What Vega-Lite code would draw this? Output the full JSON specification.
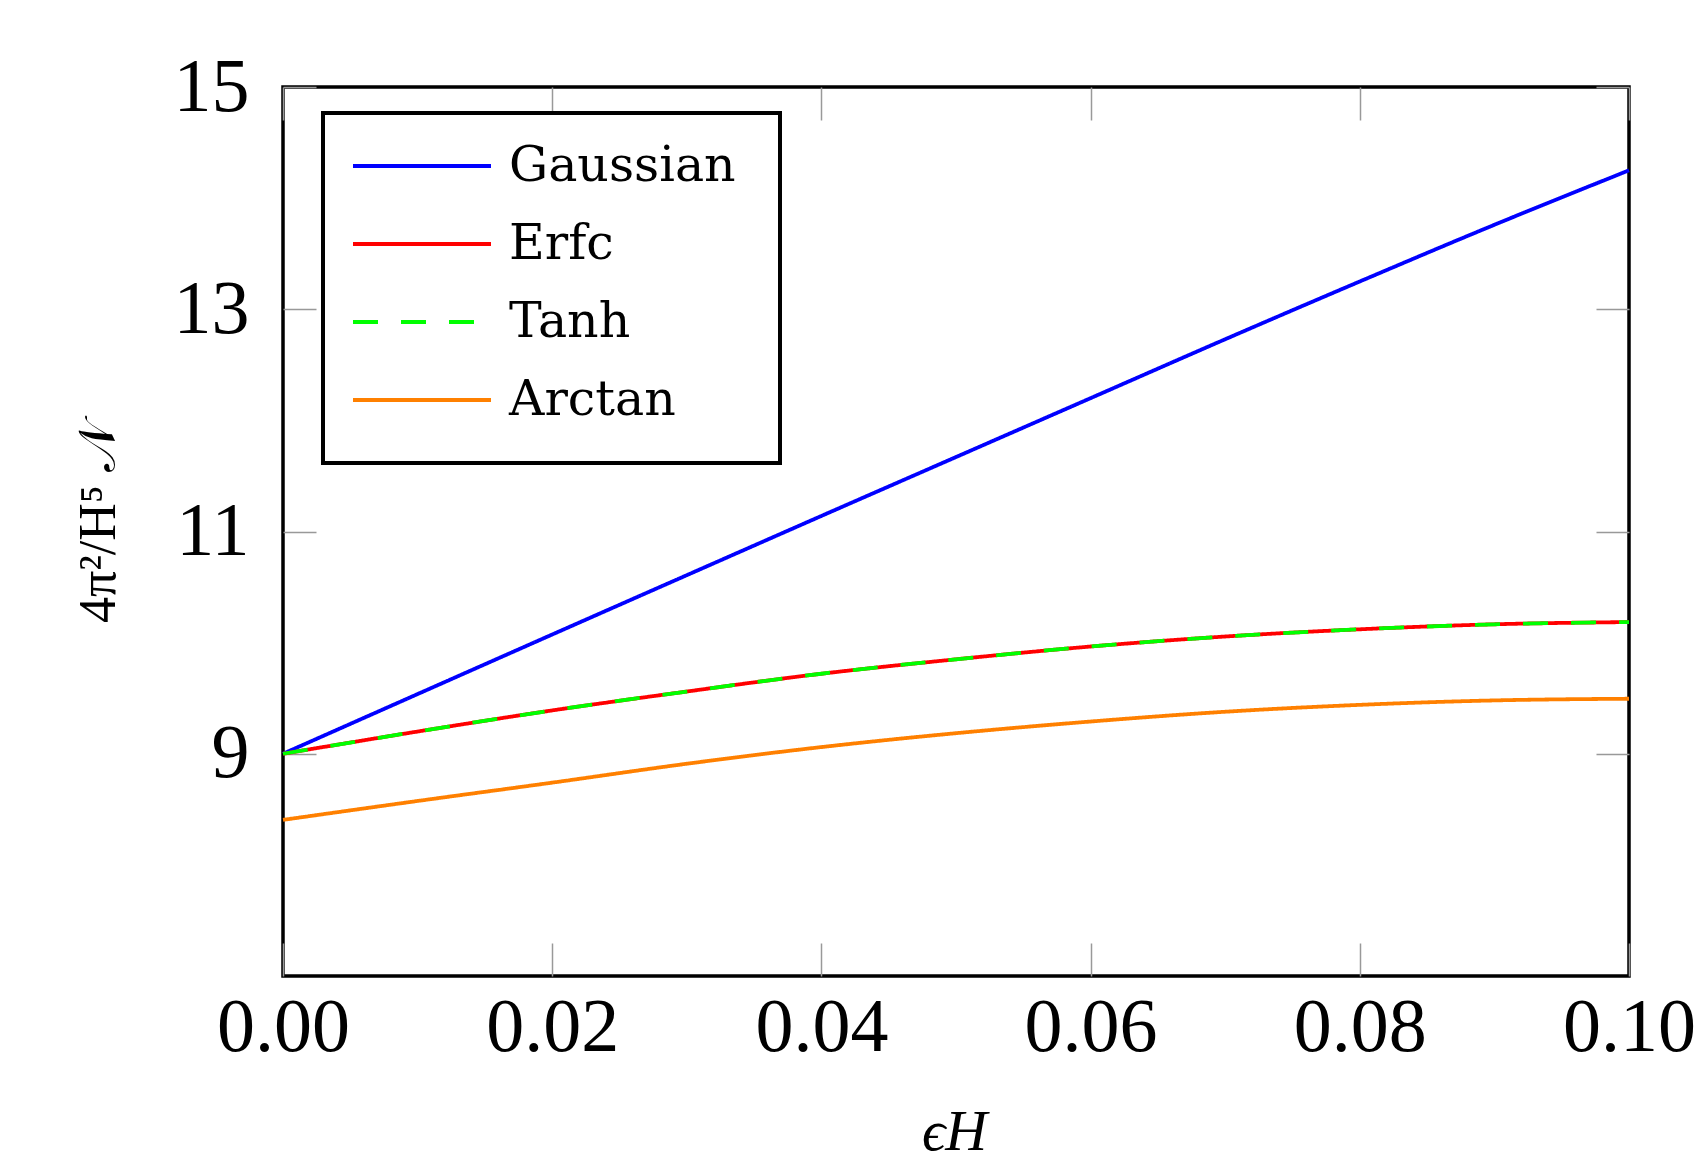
{
  "$schema": "https://vega.github.io/schema/vega-lite/v6.json",
  "autosize": {"type": "none"},
  "padding": {"left": 283, "top": 87, "right": 77, "bottom": 186},
  "width": 1346,
  "height": 889,
  "background": "white",
  "data": {
    "values": [
      {"x": 0.00, "v": 9.0, "s": "Gaussian"},
      {"x": 0.01, "v": 9.537, "s": "Gaussian"},
      {"x": 0.02, "v": 10.073, "s": "Gaussian"},
      {"x": 0.03, "v": 10.607, "s": "Gaussian"},
      {"x": 0.04, "v": 11.14, "s": "Gaussian"},
      {"x": 0.05, "v": 11.67, "s": "Gaussian"},
      {"x": 0.06, "v": 12.2, "s": "Gaussian"},
      {"x": 0.07, "v": 12.73, "s": "Gaussian"},
      {"x": 0.08, "v": 13.25, "s": "Gaussian"},
      {"x": 0.09, "v": 13.76, "s": "Gaussian"},
      {"x": 0.10, "v": 14.25, "s": "Gaussian"},
      {"x": 0.00, "v": 9.0, "s": "Erfc"},
      {"x": 0.01, "v": 9.2, "s": "Erfc"},
      {"x": 0.02, "v": 9.39, "s": "Erfc"},
      {"x": 0.03, "v": 9.56, "s": "Erfc"},
      {"x": 0.04, "v": 9.72, "s": "Erfc"},
      {"x": 0.05, "v": 9.85, "s": "Erfc"},
      {"x": 0.06, "v": 9.965, "s": "Erfc"},
      {"x": 0.07, "v": 10.055, "s": "Erfc"},
      {"x": 0.08, "v": 10.12, "s": "Erfc"},
      {"x": 0.09, "v": 10.165, "s": "Erfc"},
      {"x": 0.10, "v": 10.185, "s": "Erfc"},
      {"x": 0.00, "v": 9.0, "s": "Tanh"},
      {"x": 0.01, "v": 9.2, "s": "Tanh"},
      {"x": 0.02, "v": 9.39, "s": "Tanh"},
      {"x": 0.03, "v": 9.56, "s": "Tanh"},
      {"x": 0.04, "v": 9.72, "s": "Tanh"},
      {"x": 0.05, "v": 9.85, "s": "Tanh"},
      {"x": 0.06, "v": 9.965, "s": "Tanh"},
      {"x": 0.07, "v": 10.055, "s": "Tanh"},
      {"x": 0.08, "v": 10.12, "s": "Tanh"},
      {"x": 0.09, "v": 10.165, "s": "Tanh"},
      {"x": 0.10, "v": 10.185, "s": "Tanh"},
      {"x": 0.00, "v": 8.405, "s": "Arctan"},
      {"x": 0.01, "v": 8.575, "s": "Arctan"},
      {"x": 0.02, "v": 8.74, "s": "Arctan"},
      {"x": 0.03, "v": 8.91, "s": "Arctan"},
      {"x": 0.04, "v": 9.06, "s": "Arctan"},
      {"x": 0.05, "v": 9.185, "s": "Arctan"},
      {"x": 0.06, "v": 9.29, "s": "Arctan"},
      {"x": 0.07, "v": 9.378, "s": "Arctan"},
      {"x": 0.08, "v": 9.44, "s": "Arctan"},
      {"x": 0.09, "v": 9.48, "s": "Arctan"},
      {"x": 0.10, "v": 9.495, "s": "Arctan"}
    ]
  },
  "resolve": {"axis": {"x": "independent", "y": "independent"}},
  "layer": [
    {
      "mark": {"type": "line", "strokeWidth": 3.8, "interpolate": "monotone"},
      "encoding": {
        "x": {
          "field": "x", "type": "quantitative",
          "scale": {"domain": [0, 0.1], "nice": false, "zero": false},
          "axis": {
            "orient": "bottom",
            "values": [0, 0.02, 0.04, 0.06, 0.08, 0.1],
            "format": ".2f",
            "labelFlush": false,
            "labelOverlap": false,
            "labelPadding": 47,
            "title": "ϵH",
            "titleFont": "Liberation Serif",
            "titleFontStyle": "italic",
            "titleFontWeight": "normal",
            "titleFontSize": 58,
            "titleX": 671,
            "titleY": 156,
            "titleBaseline": "middle",
            "titleAlign": "center"
          }
        },
        "y": {
          "field": "v", "type": "quantitative",
          "scale": {"domain": [7, 15], "nice": false, "zero": false},
          "axis": {
            "orient": "left",
            "values": [9, 11, 13, 15],
            "labelFlush": false,
            "labelOverlap": false,
            "labelPadding": 67,
            "title": "4π²/H⁵ 𝒩",
            "titleFont": "Liberation Serif",
            "titleFontWeight": "normal",
            "titleFontSize": 52,
            "titleX": -185,
            "titleY": 435,
            "titleAngle": -90,
            "titleBaseline": "middle",
            "titleAlign": "center"
          }
        },
        "color": {
          "field": "s", "type": "nominal",
          "scale": {
            "domain": ["Gaussian", "Erfc", "Tanh", "Arctan"],
            "range": ["#0000ff", "#ff0000", "#00ff00", "#ff8000"]
          },
          "legend": {"title": " ", "labelExpr": "datum.label + '\u00a0\u200b'"}
        },
        "strokeDash": {
          "field": "s", "type": "nominal",
          "scale": {
            "domain": ["Gaussian", "Erfc", "Tanh", "Arctan"],
            "range": [[1, 0], [1, 0], [25, 23], [1, 0]]
          },
          "legend": {"title": " ", "labelExpr": "datum.label + '\u00a0\u200b'"}
        }
      }
    },
    {
      "mark": {"type": "line", "strokeOpacity": 0},
      "encoding": {
        "x": {
          "field": "x", "type": "quantitative",
          "axis": {"orient": "top", "values": [0, 0.02, 0.04, 0.06, 0.08, 0.1], "labels": false, "title": null}
        },
        "y": {
          "field": "v", "type": "quantitative",
          "axis": {"orient": "right", "values": [9, 11, 13, 15], "labels": false, "title": null}
        },
        "detail": {"field": "s"}
      }
    }
  ],
  "config": {
    "view": {"stroke": "black", "strokeWidth": 3.5},
    "axis": {
      "domain": false,
      "grid": false,
      "ticks": true,
      "tickColor": "#999999",
      "tickWidth": 1.5,
      "tickSize": -33,
      "labelFont": "Liberation Serif",
      "labelFontSize": 76,
      "labelColor": "black",
      "titleColor": "black"
    },
    "legend": {
      "orient": "none",
      "legendX": 40,
      "legendY": 26,
      "direction": "vertical",
      "fillColor": "white",
      "strokeColor": "black",
      "strokeWidth": 4,
      "padding": 28,
      "cornerRadius": 0,
      "titleOrient": "bottom",
      "titleFontSize": 8,
      "titlePadding": 2,
      "symbolType": "M-1,0H5",
      "symbolSize": 2116,
      "symbolStrokeWidth": 4,
      "labelFont": "DejaVu Serif",
      "labelFontSize": 49,
      "labelColor": "black",
      "labelOffset": 108,
      "rowPadding": 28,
      "labelLimit": 1000
    }
  }
}
